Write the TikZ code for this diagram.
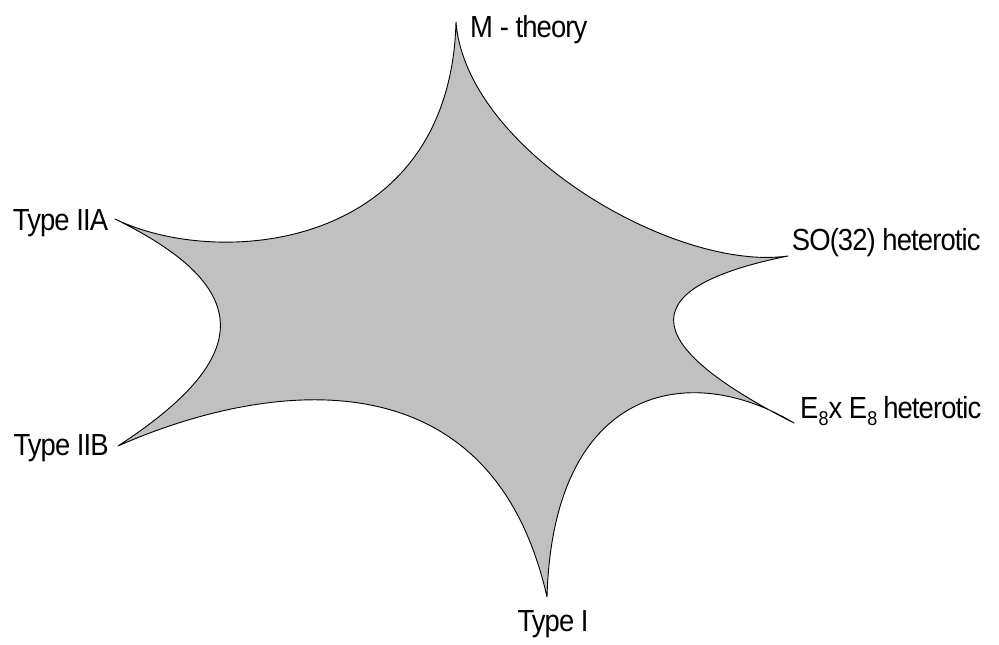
\documentclass[tikz,border=0pt]{standalone}
\usepackage{fontspec}
\newfontfamily\lab[FakeStretch=0.9,LetterSpace=-3]{Liberation Sans}
\newcommand{\subeight}{\raisebox{-7pt}{\fontsize{20}{20}\selectfont 8}}
\tikzset{
  star/.style={fill={rgb,255:red,192;green,192;blue,192}, draw=black, line width=0.9pt, line join=round},
  lbl/.style={inner sep=0pt, anchor=base west, font=\lab\fontsize{30.5}{35}\selectfont}
}
\begin{document}
\begin{tikzpicture}[x=1pt,y=-1pt]
\useasboundingbox (0,0) rectangle (999,645);
\coordinate (m) at (456,22);
\coordinate (so) at (788,256);
\coordinate (e8) at (794,423);
\coordinate (t1) at (547,597);
\coordinate (iib) at (118,446);
\coordinate (iia) at (115,219);
\path[star] (m) .. controls (466,150) and (675,272) .. (so)
  .. controls (620,290) and (650,350) .. (e8)
  .. controls (690,360) and (553,385) .. (t1)
  .. controls (490,345) and (258,384) .. (iib)
  .. controls (250,360) and (260,290) .. (iia)
  .. controls (220,270) and (450,250) .. (m) -- cycle;
\node[lbl] (lm) at (470,37) {M - theory};
\node[lbl] (la) at (12.7,230) {Type IIA};
\node[lbl] (lb) at (13.3,455) {Type IIB};
\node[lbl] (lso) at (791.7,250) {SO(32) heterotic};
\node[lbl] (le) at (800,418.3) {E\subeight x E\subeight\hspace{6pt}heterotic};
\node[lbl] (l1) at (517.3,631.7) {Type I};
\end{tikzpicture}
\end{document}
